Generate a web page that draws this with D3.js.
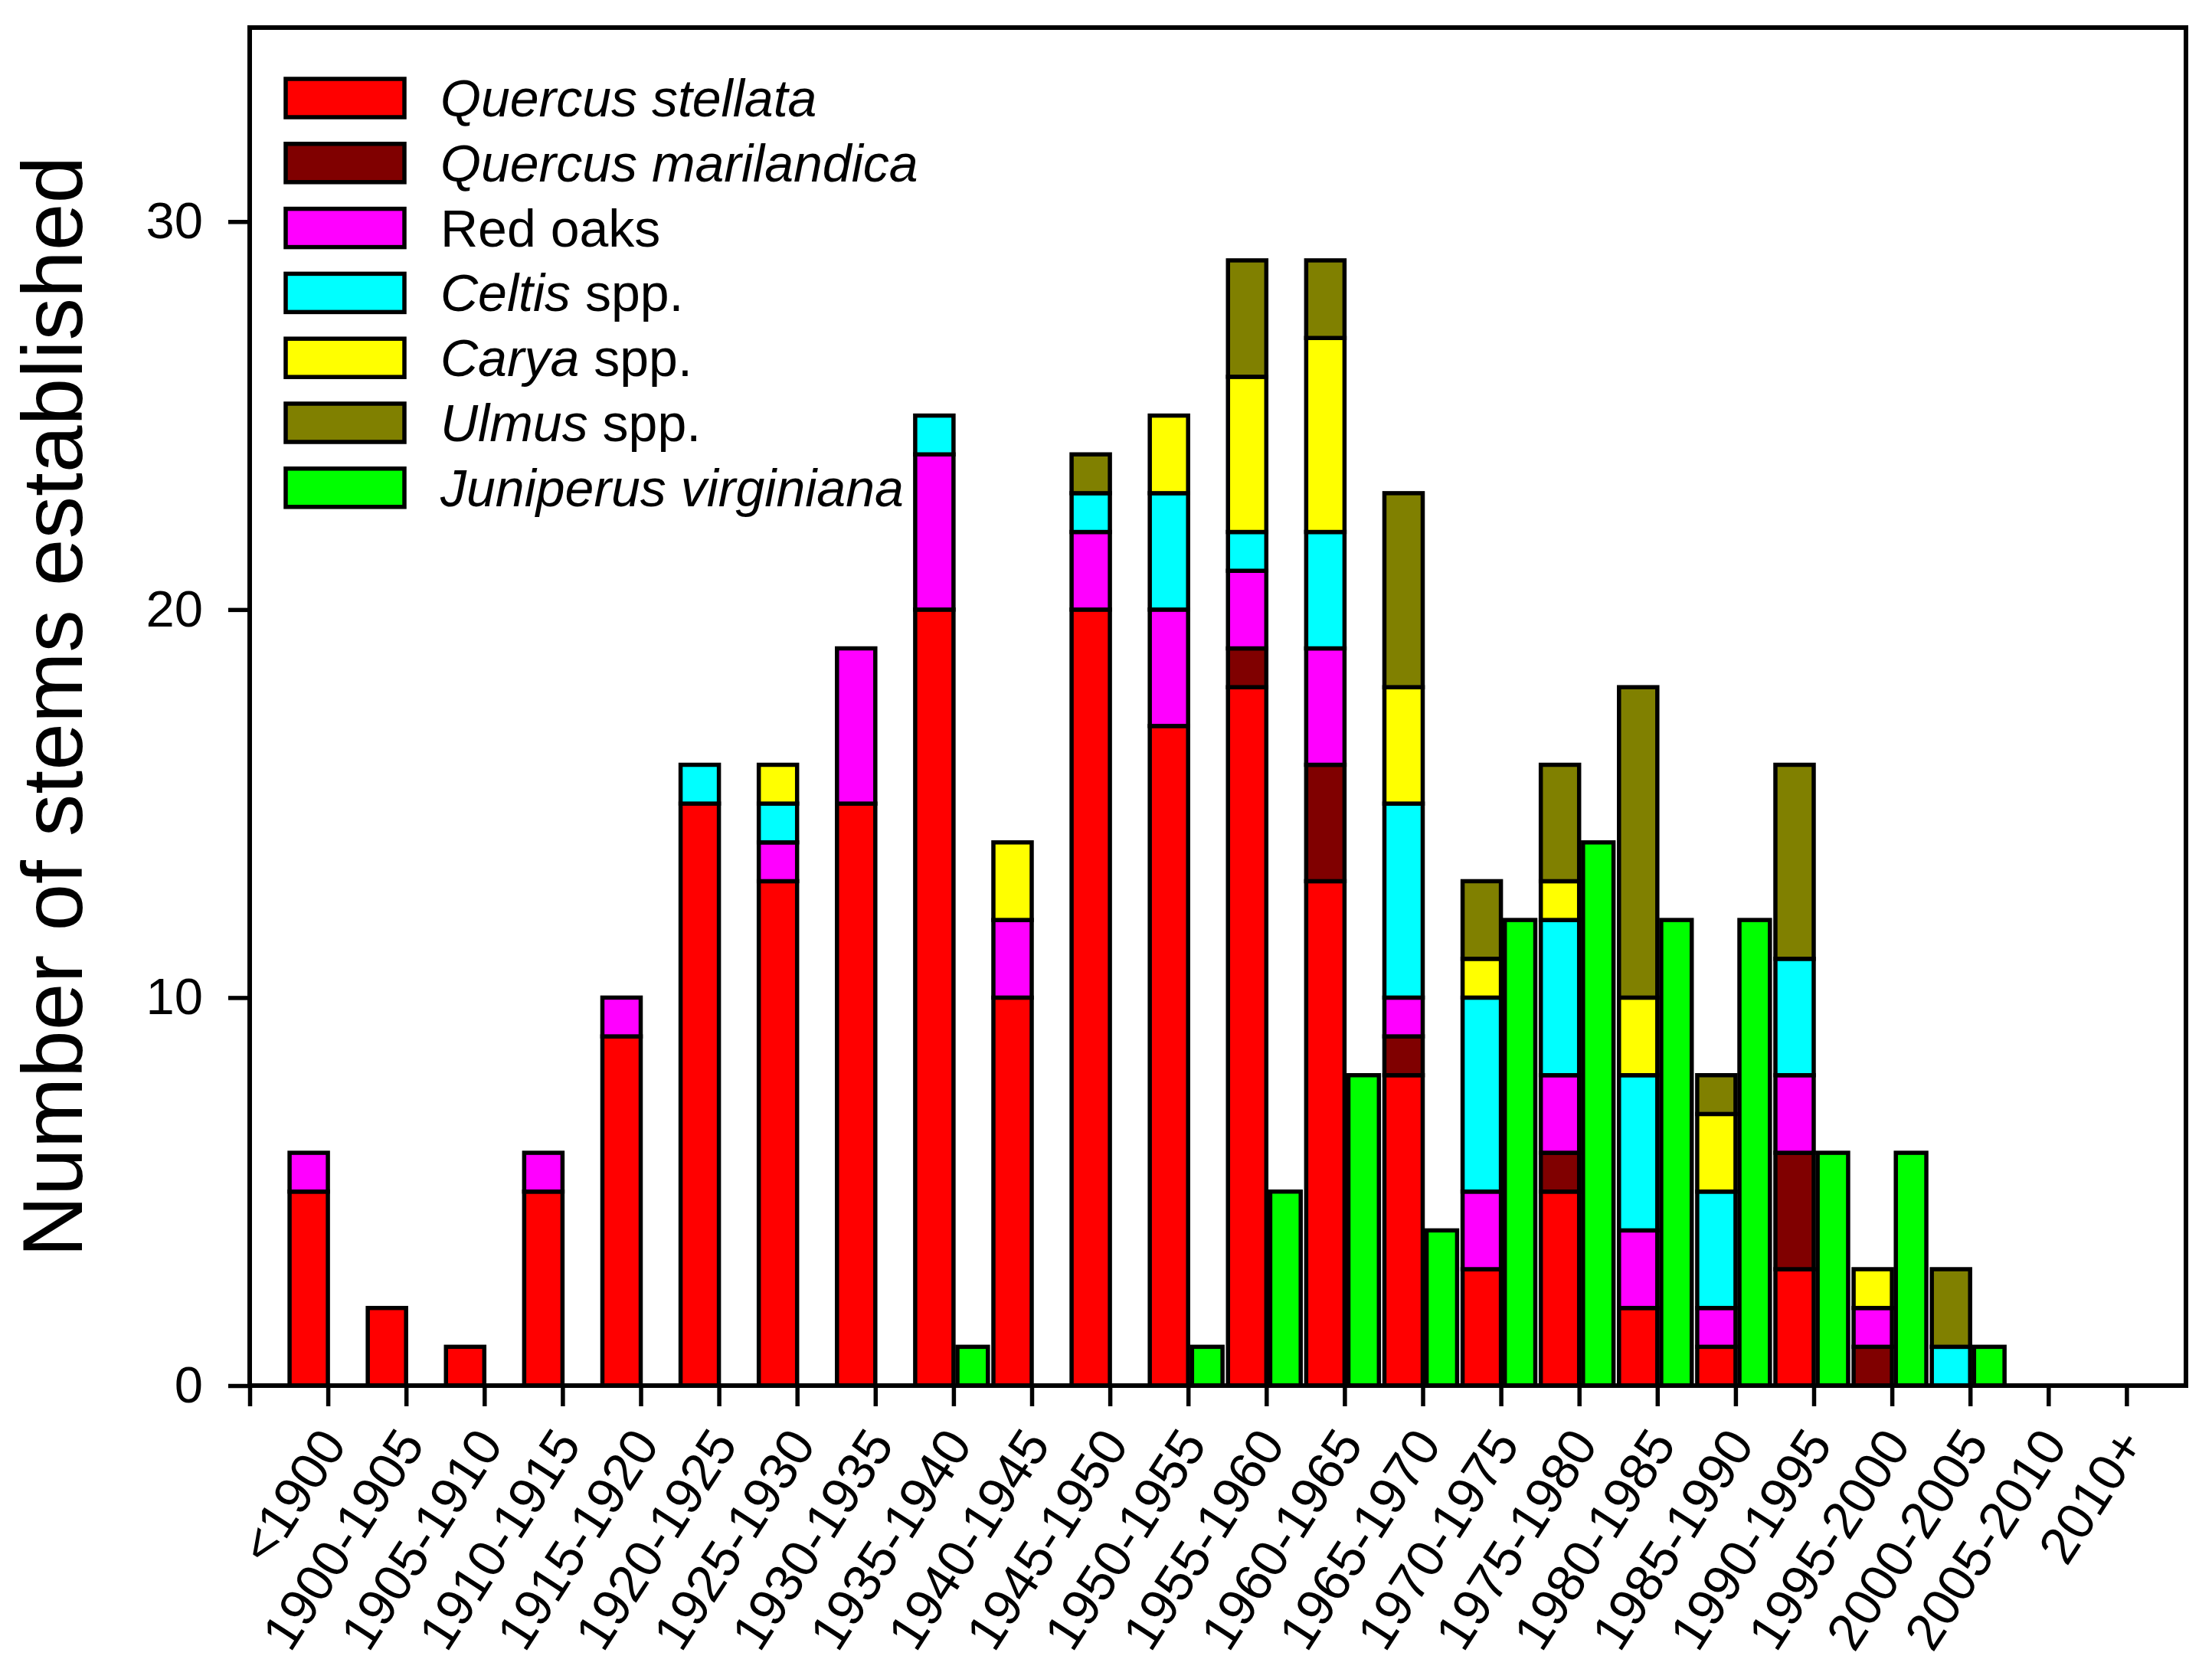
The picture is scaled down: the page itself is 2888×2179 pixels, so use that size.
<!DOCTYPE html>
<html>
<head>
<meta charset="utf-8">
<script src="https://cdn.jsdelivr.net/npm/d3@7"></script>
<style>
    body { margin: 0; background: #fff; }
    text { font-family: 'Liberation Sans', Arial, sans-serif; }
</style>
</head>
<body>
<div id="chart"></div>
<script>
// age classes (5-year bins)
const categories = ['<1900', '1900-1905', '1905-1910', '1910-1915', '1915-1920', '1920-1925', '1925-1930',
    '1930-1935', '1935-1940', '1940-1945', '1945-1950', '1950-1955', '1955-1960', '1960-1965', '1965-1970',
    '1970-1975', '1975-1980', '1980-1985', '1985-1990', '1990-1995', '1995-2000', '2000-2005', '2005-2010', '2010+'];

// stems established per bin
const stellata    = [5, 2, 1, 5, 9, 15, 13, 15, 20, 10, 20, 17, 18, 13, 8, 3, 5, 2, 1, 3, 0, 0, 0, 0];
const marilandica = [0, 0, 0, 0, 0, 0, 0, 0, 0, 0, 0, 0, 1, 3, 1, 0, 1, 0, 0, 3, 1, 0, 0, 0];
const redOaks     = [1, 0, 0, 1, 1, 0, 1, 4, 4, 2, 2, 3, 2, 3, 1, 2, 2, 2, 1, 2, 1, 0, 0, 0];
const celtis      = [0, 0, 0, 0, 0, 1, 1, 0, 1, 0, 1, 3, 1, 3, 5, 5, 4, 4, 3, 3, 0, 1, 0, 0];
const carya       = [0, 0, 0, 0, 0, 0, 1, 0, 0, 2, 0, 2, 4, 5, 3, 1, 1, 2, 2, 0, 1, 0, 0, 0];
const ulmus       = [0, 0, 0, 0, 0, 0, 0, 0, 0, 0, 1, 0, 3, 2, 5, 2, 3, 8, 1, 5, 0, 2, 0, 0];
const juniperus   = [0, 0, 0, 0, 0, 0, 0, 0, 1, 0, 0, 1, 5, 8, 4, 12, 14, 12, 12, 6, 6, 1, 0, 0];

const yTicks = [0, 10, 20, 30];

// legend entries: [italic part, plain part]
const legendLabels = [
    ['Quercus stellata', ''],
    ['Quercus marilandica', ''],
    ['', 'Red oaks'],
    ['Celtis', ' spp.'],
    ['Carya', ' spp.'],
    ['Ulmus', ' spp.'],
    ['Juniperus virginiana', ''],
];
const colors = ['#ff0000', '#800000', '#ff00ff', '#00ffff', '#ffff00', '#808000', '#00ff00'];

class StemVis {
    constructor(parentElement) {
        this.parentElement = parentElement;
        this.initVis();
    }

    initVis() {
        let vis = this;

        vis.width = 2888;
        vis.height = 2179;
        vis.plot = { left: 326, right: 2854, top: 36, bottom: 1809 };

        vis.svg = d3.select('#' + vis.parentElement)
            .append('svg')
            .attr('width', vis.width)
            .attr('height', vis.height);

        vis.svg.append('rect').attr('width', vis.width).attr('height', vis.height).attr('fill', '#fff');

        // tick i sits in the middle of slot i; slot 0 is empty
        vis.x = d3.scaleLinear().domain([0, 24.76]).range([vis.plot.left, vis.plot.right]);
        vis.y = d3.scaleLinear().domain([0, 35]).range([vis.plot.bottom, vis.plot.top]);

        // stack the broadleaf species, juniper is a separate bar
        let keys = ['stellata', 'marilandica', 'redOaks', 'celtis', 'carya', 'ulmus'];
        let table = categories.map((c, i) => ({
            cat: c, idx: i + 1,
            stellata: stellata[i], marilandica: marilandica[i], redOaks: redOaks[i],
            celtis: celtis[i], carya: carya[i], ulmus: ulmus[i],
        }));
        vis.stacked = d3.stack().keys(keys)(table);
        vis.juniper = categories.map((c, i) => ({ idx: i + 1, value: juniperus[i] }));

        vis.drawBars();
        vis.drawAxes();
        vis.drawLegend();
    }

    drawBars() {
        let vis = this;

        vis.svg.append('g')
            .selectAll('g')
            .data(vis.stacked)
            .join('g')
            .attr('fill', (d, i) => colors[i])
            .selectAll('rect')
            .data((d) => d.filter((s) => s[1] > s[0]))
            .join('rect')
            .attr('x', (d) => vis.x(d.data.idx - 0.49))
            .attr('width', (d) => vis.x(d.data.idx) - vis.x(d.data.idx - 0.49))
            .attr('y', (d) => vis.y(d[1]))
            .attr('height', (d) => vis.y(d[0]) - vis.y(d[1]))
            .attr('stroke', '#000')
            .attr('stroke-width', 5.5);

        vis.svg.append('g')
            .selectAll('rect')
            .data(vis.juniper.filter((d) => d.value > 0))
            .join('rect')
            .attr('x', (d) => vis.x(d.idx + 0.05))
            .attr('width', (d) => vis.x(d.idx + 0.44) - vis.x(d.idx + 0.05))
            .attr('y', (d) => vis.y(d.value))
            .attr('height', (d) => vis.y(0) - vis.y(d.value))
            .attr('fill', colors[6])
            .attr('stroke', '#000')
            .attr('stroke-width', 5.5);
    }

    drawAxes() {
        let vis = this;
        let p = vis.plot;

        // frame
        vis.svg.append('rect')
            .attr('x', p.left).attr('y', p.top)
            .attr('width', p.right - p.left).attr('height', p.bottom - p.top)
            .attr('fill', 'none').attr('stroke', '#000').attr('stroke-width', 6);

        let yAxis = vis.svg.append('g')
            .attr('transform', `translate(${p.left},0)`)
            .call(d3.axisLeft(vis.y).tickValues(yTicks).tickSize(28).tickPadding(33).tickSizeOuter(0));
        yAxis.select('.domain').remove();
        yAxis.selectAll('line').attr('stroke-width', 5.5);
        yAxis.selectAll('text').attr('font-size', 67).attr('font-family', "'Liberation Sans', Arial, sans-serif");

        let xAxis = vis.svg.append('g')
            .attr('transform', `translate(0,${p.bottom})`)
            .call(d3.axisBottom(vis.x).tickValues(d3.range(0, 25)).tickSize(27).tickFormat('').tickSizeOuter(0));
        xAxis.select('.domain').remove();
        xAxis.selectAll('line').attr('stroke-width', 5.5);

        // slanted category labels, ending at their tick
        vis.svg.append('g')
            .selectAll('text')
            .data(categories)
            .join('text')
            .attr('transform', (d, i) => `translate(${vis.x(i + 1) + 6},${p.bottom + 64}) rotate(-57)`)
            .attr('text-anchor', 'end')
            .attr('dy', '0.35em')
            .attr('font-size', 68)
            .text((d) => d);

        // axis title
        vis.svg.append('text')
            .attr('transform', `translate(107,${(p.top + p.bottom) / 2}) rotate(-90)`)
            .attr('text-anchor', 'middle')
            .attr('font-size', 111)
            .text('Number of stems established');
    }

    drawLegend() {
        let vis = this;

        let rows = vis.svg.append('g')
            .selectAll('g')
            .data(legendLabels)
            .join('g')
            .attr('transform', (d, i) => `translate(0,${128 + 84.8 * i})`);

        rows.append('rect')
            .attr('x', 373).attr('y', -25)
            .attr('width', 155).attr('height', 50)
            .attr('fill', (d, i) => colors[i])
            .attr('stroke', '#000').attr('stroke-width', 5.5);

        let label = rows.append('text')
            .attr('x', 575)
            .attr('y', 24)
            .attr('font-size', 68);
        label.append('tspan').attr('font-style', 'italic').text((d) => d[0]);
        label.append('tspan').text((d) => d[1]);
    }
}

new StemVis('chart');
</script>
</body>
</html>
